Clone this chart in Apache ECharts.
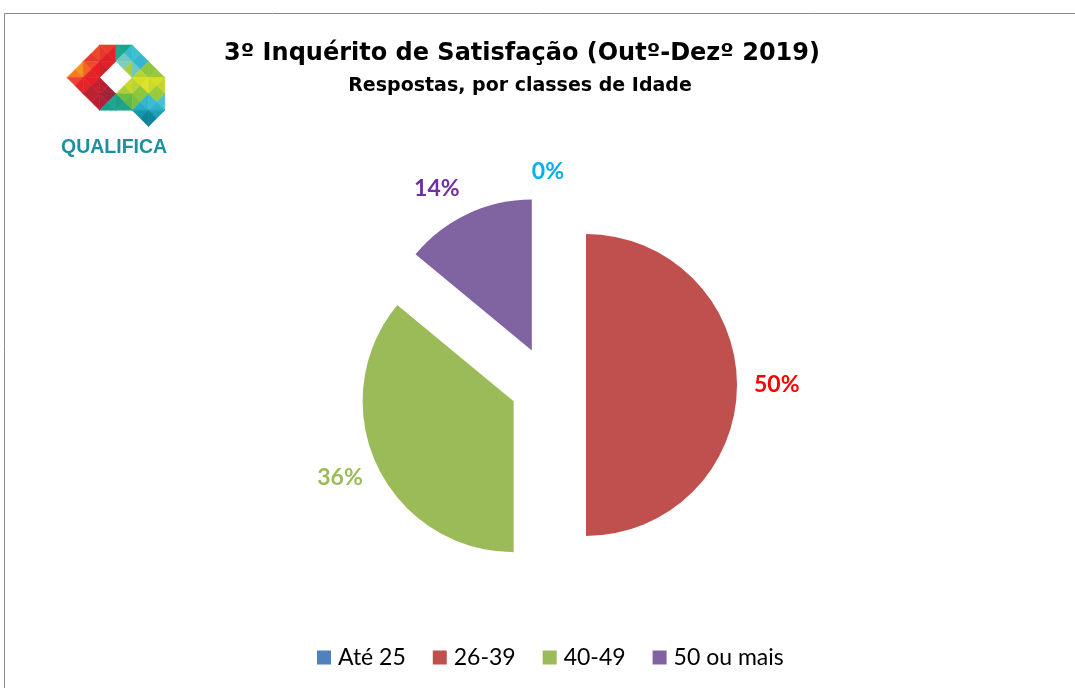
<!DOCTYPE html>
<html>
<head>
<meta charset="utf-8">
<script src="https://cdn.jsdelivr.net/npm/echarts@6/dist/echarts.min.js"></script>
<style>
  html, body { margin: 0; padding: 0; background: #fff; }
  #chart { width: 1075px; height: 688px; }
</style>
</head>
<body>
<div id="chart"></div>
<script>
// ---- data ----
var categories = ['Até 25', '26-39', '40-49', '50 ou mais'];
var values = [0, 50, 36, 14];
var sliceColors = ['#4F81BD', '#C0504D', '#9BBB59', '#8064A2'];
var labelColors = ['#00B0F0', '#FF0000', '#9BBB59', '#7030A0'];
var titleText = '3º Inquérito de Satisfação (Outº-Dezº 2019)';
var subtitleText = 'Respostas, por classes de Idade';

// per-slice label placement (outside label distances)
var labelLen = [24, 0, 29, 28];
var labelDist = [-16, 17, -12, -4];

// ---- logo (decoration) ----
var LX = 67, LY = 45, H = 16.3;
function P(i, j) { return [LX + H * i, LY + H * j]; }
// squares: [i, j, {N,E,S,W colors}]
var logoCells = [
  [1,0,{E:'#ea4a2c',S:'#e8382a'}],
  [2,0,{N:'#e6402c',W:'#e8382a',E:'#ec1d26',S:'#dd1f2a'}],
  [3,0,{N:'#17a58b',W:'#1ea88d',E:'#33bccf',S:'#6fcabd'}],
  [4,0,{S:'#35b8cf',W:'#3fc0cf'}],
  [0,1,{E:'#f7941e',S:'#f47b20'}],
  [1,1,{N:'#ee4a30',W:'#f26522',E:'#ed1c24',S:'#e2242b'}],
  [2,1,{N:'#e21e26',W:'#cf1f2b'}],
  [3,1,{N:'#7dcdc0',E:'#a6cf3a'}],
  [4,1,{N:'#31b6ce',W:'#6ec9bc',E:'#8cc63f',S:'#b5d334'}],
  [5,1,{W:'#8dc63f',S:'#9aca3c'}],
  [0,2,{N:'#ef4136',E:'#e62129'}],
  [1,2,{N:'#ec1c24',W:'#e0262c',E:'#c5202f',S:'#b72130'}],
  [2,2,{S:'#a6243a',W:'#be1e2d'}],
  [3,2,{E:'#c8d92b',S:'#a9cf3a'}],
  [4,2,{N:'#d7df23',W:'#b9d433',E:'#dfe22a',S:'#8dc63f'}],
  [5,2,{N:'#d6de26',W:'#cbdb2a',E:'#c2d62f',S:'#9bcb3c'}],
  [1,3,{N:'#c0202f',E:'#b81f33'}],
  [2,3,{N:'#9c2536',W:'#b0203a',E:'#1ea68e',S:'#17a08b'}],
  [3,3,{N:'#6cbd45',W:'#1c9f8a',E:'#5fb946',S:'#21a38a'}],
  [4,3,{N:'#8dc63f',W:'#7ac143',E:'#32b6cd',S:'#26aec6'}],
  [5,3,{N:'#9bcb3c',W:'#3cbcd0',E:'#48c1d4',S:'#2bb4cc'}],
  [4,4,{N:'#1596ab',E:'#0f8198'}],
  [5,4,{N:'#1ea0b8',W:'#0c86a0'}]
];

var logoGraphics = [];
logoCells.forEach(function (cell) {
  var i = cell[0], j = cell[1], q = cell[2];
  var c = [LX + H * (i + 0.5), LY + H * (j + 0.5)];
  var tris = {
    N: [P(i, j), P(i + 1, j), c],
    E: [P(i + 1, j), P(i + 1, j + 1), c],
    S: [P(i, j + 1), P(i + 1, j + 1), c],
    W: [P(i, j), P(i, j + 1), c]
  };
  Object.keys(q).forEach(function (k) {
    logoGraphics.push({
      type: 'polygon',
      shape: { points: tris[k] },
      style: { fill: q[k], stroke: q[k], lineWidth: 0.6 },
      silent: true
    });
  });
});
logoGraphics.push({
  type: 'text',
  left: 61, top: 138,
  style: { text: 'QUALIFICA', fill: '#1e8fa0', font: 'bold 19.5px "Liberation Sans", Arial, sans-serif' },
  silent: true
});
// chart border
logoGraphics.push({
  type: 'rect',
  shape: { x: 4.5, y: 13.5, width: 1100, height: 700 },
  style: { fill: 'none', stroke: '#8a8a8a', lineWidth: 1 },
  silent: true, z: -1
});

var pieData = categories.map(function (name, k) {
  return {
    name: name,
    value: values[k],
    selected: true,
    itemStyle: { color: sliceColors[k] },
    label: { color: labelColors[k], distanceToLabelLine: labelDist[k] },
    labelLine: { show: false, length: labelLen[k], length2: 0 }
  };
});

var chart = echarts.init(document.getElementById('chart'), null, { renderer: 'canvas' });
chart.setOption({
  animation: false,
  backgroundColor: '#ffffff',
  title: [
    {
      text: titleText,
      left: 517, top: 37, textAlign: 'center',
      textStyle: { fontFamily: '"DejaVu Sans", sans-serif', fontWeight: 'bold', fontSize: 24, color: '#000' }
    },
    {
      text: subtitleText,
      left: 515, top: 72, textAlign: 'center',
      textStyle: { fontFamily: '"DejaVu Sans", sans-serif', fontWeight: 'bold', fontSize: 19, color: '#000' }
    }
  ],
  legend: {
    data: categories,
    left: 312, top: 641,
    icon: 'rect',
    itemWidth: 14, itemHeight: 14, itemGap: 27,
    textStyle: { fontFamily: 'Lato, "Open Sans", sans-serif', fontSize: 23, color: '#000', padding: [0, 0, 0, 2] },
    selectedMode: false
  },
  graphic: logoGraphics,
  series: [{
    type: 'pie',
    center: [548, 385],
    radius: 151,
    startAngle: 90,
    clockwise: true,
    avoidLabelOverlap: false,
    selectedMode: 'multiple',
    selectedOffset: 38,
    silent: true,
    itemStyle: { borderWidth: 0 },
    select: { itemStyle: { borderWidth: 0 } },
    label: {
      show: true,
      position: 'outside',
      formatter: function (p) { return p.value + '%'; },
      fontFamily: 'Lato, "Open Sans", sans-serif',
      fontWeight: 'bold',
      fontSize: 23
    },
    labelLine: { show: false },
    data: pieData
  }]
});
</script>
</body>
</html>
